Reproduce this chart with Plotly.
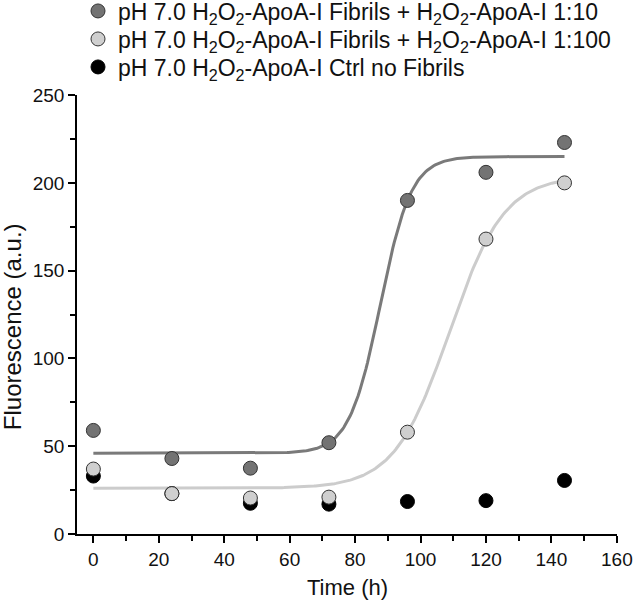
import numpy as np
import plotly.graph_objects as go

time_h = [0, 24, 48, 72, 96, 120, 144]
fib_1_10 = [59, 43, 37.5, 52, 190, 206, 223]
fib_1_100 = [37, 23, 20.5, 21, 58, 168, 200]
ctrl = [33, 23, 17.5, 17, 18.5, 19, 30.5]

names = [
    "pH 7.0 H<sub>2</sub>O<sub>2</sub>-ApoA-I Fibrils + H<sub>2</sub>O<sub>2</sub>-ApoA-I 1:10",
    "pH 7.0 H<sub>2</sub>O<sub>2</sub>-ApoA-I Fibrils + H<sub>2</sub>O<sub>2</sub>-ApoA-I 1:100",
    "pH 7.0 H<sub>2</sub>O<sub>2</sub>-ApoA-I Ctrl no Fibrils",
]

# Boltzmann sigmoid fit parameters (bottom, top, midpoint, slope)
fit_1_10 = (46, 215, 87.7, 4.75)
fit_1_100 = (26, 204, 108.8, 8.4)

def boltz(x, p):
    b, t, x0, k = p
    return b + (t - b) / (1 + np.exp((x0 - x) / k))

xf = np.linspace(0, 144, 300)

fig = go.Figure()
fig.add_trace(go.Scatter(x=xf, y=boltz(xf, fit_1_10), mode="lines",
                         line=dict(color="#7a7a7a", width=3), showlegend=False, hoverinfo="skip"))
fig.add_trace(go.Scatter(x=xf, y=boltz(xf, fit_1_100), mode="lines",
                         line=dict(color="#cccccc", width=3), showlegend=False, hoverinfo="skip"))

fig.add_trace(go.Scatter(x=time_h, y=ctrl, mode="markers", name=names[2], legend="legend3",
                         marker=dict(size=14, color="#000000", line=dict(color="#000000", width=1))))
fig.add_trace(go.Scatter(x=time_h, y=fib_1_100, mode="markers", name=names[1], legend="legend2",
                         marker=dict(size=14, color="#cfcfcf", line=dict(color="#333333", width=1))))
fig.add_trace(go.Scatter(x=time_h, y=fib_1_10, mode="markers", name=names[0], legend="legend",
                         marker=dict(size=14, color="#737373", line=dict(color="#333333", width=1))))

W, H = 633, 604
leg_x = 78 / W
row_y = [1 - 11 / H, 1 - 39 / H, 1 - 67 / H]

def leg(y):
    return dict(xref="container", yref="container", x=leg_x, y=y, xanchor="left", yanchor="middle",
                font=dict(size=23, color="#111111"), bgcolor="rgba(0,0,0,0)")

fig.update_layout(
    width=W, height=H,
    margin=dict(l=77, r=16, t=95, b=70, autoexpand=False),
    paper_bgcolor="white", plot_bgcolor="white",
    font=dict(family="Liberation Sans, Arial, sans-serif", size=19, color="#111111"),
    legend=leg(row_y[0]), legend2=leg(row_y[1]), legend3=leg(row_y[2]),
    showlegend=True,
    annotations=[
        dict(text="Fluorescence (a.u.)", xref="paper", yref="paper", x=-0.120, y=0.4715,
             textangle=-90, showarrow=False, xanchor="center", yanchor="middle",
             font=dict(size=24, color="#111111")),
        dict(text="Time (h)", xref="paper", yref="paper", x=0.5, y=-0.123,
             showarrow=False, xanchor="center", yanchor="middle",
             font=dict(size=22, color="#111111")),
    ],
)
fig.update_xaxes(range=[-5, 160.05], tickvals=list(range(0, 161, 20)),
                 ticks="outside", ticklen=7, tickwidth=1.5, tickcolor="black",
                 minor=dict(tickvals=list(range(10, 161, 20)), ticks="outside", ticklen=5,
                            tickwidth=1.5, tickcolor="black"),
                 showline=True, linecolor="black", linewidth=1.5, showgrid=False, zeroline=False,
                 automargin=False, ticklabeloverflow="allow", tickfont=dict(size=19))
fig.update_yaxes(range=[0, 250.05], tickvals=list(range(0, 251, 50)),
                 ticks="outside", ticklen=7, tickwidth=1.5, tickcolor="black",
                 minor=dict(tickvals=list(range(25, 251, 50)), ticks="outside", ticklen=5,
                            tickwidth=1.5, tickcolor="black"),
                 showline=True, linecolor="black", linewidth=1.5, showgrid=False, zeroline=False,
                 automargin=False, ticklabeloverflow="allow", tickfont=dict(size=19))

# remove the browser's default 8px body margin so the figure fills the window exactly
fig.write_html("out.html", config={"displayModeBar": False},
               post_script="document.body.style.margin='0';")
